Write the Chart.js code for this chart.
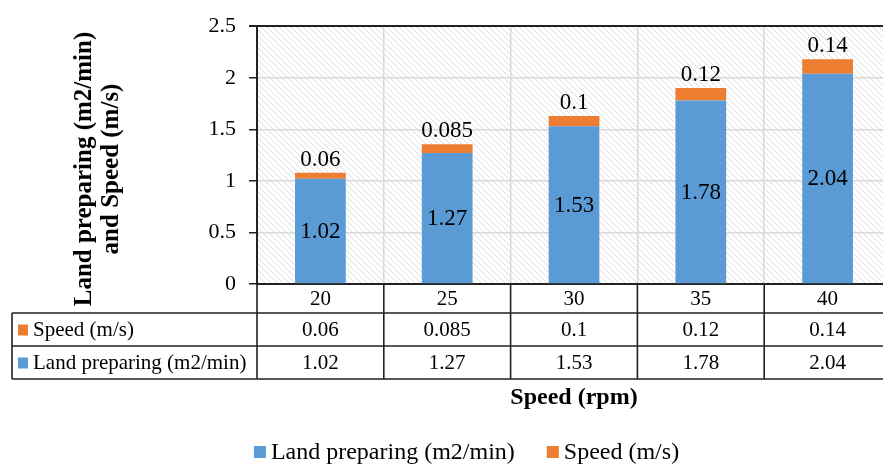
<!DOCTYPE html>
<html>
<head>
<meta charset="utf-8">
<script src="https://cdn.jsdelivr.net/npm/chart.js@4.4.0/dist/chart.umd.min.js"></script>
<style>
  html, body { margin: 0; padding: 0; overflow: hidden; background: #fff; }
  #wrap { position: relative; width: 933px; height: 466px; }
</style>
</head>
<body>
<div id="wrap"><canvas id="c"></canvas></div>
<script>
// Rotor speed categories and the two stacked series
const categories = ['20', '25', '30', '35', '40'];
const landPreparing = [1.02, 1.27, 1.53, 1.78, 2.04];
const speedMs = [0.06, 0.085, 0.1, 0.12, 0.14];
const yTicks = [0, 0.5, 1, 1.5, 2, 2.5];
const seriesNames = ['Land preparing (m2/min)', 'Speed (m/s)'];
const seriesColors = ['#5B9BD5', '#ED7D31'];
const xTitle = 'Speed (rpm)';
const yTitle = ['Land preparing (m2/min)', 'and Speed (m/s)'];

const SERIF = '"Liberation Serif", "Times New Roman", serif';
const LINE = '#222';
const GRID = '#d9d9d9';

// Diagonal hatch used as the plot area fill
function makeHatch(ctx) {
  const s = 6;
  const p = document.createElement('canvas');
  p.width = s; p.height = s;
  const g = p.getContext('2d');
  g.fillStyle = '#fff';
  g.fillRect(0, 0, s, s);
  g.strokeStyle = '#dcdcdc';
  g.lineWidth = 1;
  g.beginPath();
  for (const k of [-s, 0, s]) {
    g.moveTo(k, 0);
    g.lineTo(k + s, s);
  }
  g.stroke();
  return ctx.createPattern(p, 'repeat');
}

const hatchBackground = {
  id: 'hatchBackground',
  beforeDraw(chart) {
    const { ctx, chartArea: a } = chart;
    ctx.save();
    ctx.fillStyle = makeHatch(ctx);
    ctx.fillRect(a.left, a.top, a.right - a.left, a.bottom - a.top);
    ctx.restore();
  }
};

// Value labels: bottom series centred in its segment, top series above the stack
const valueLabels = {
  id: 'valueLabels',
  afterDatasetsDraw(chart) {
    const { ctx } = chart;
    ctx.save();
    ctx.font = '23px ' + SERIF;
    ctx.fillStyle = '#000';
    ctx.textAlign = 'center';
    const m0 = chart.getDatasetMeta(0);
    const m1 = chart.getDatasetMeta(1);
    m0.data.forEach((el, i) => {
      ctx.textBaseline = 'middle';
      ctx.fillText(String(chart.data.datasets[0].data[i]), el.x, (el.y + el.base) / 2 + 1);
    });
    m1.data.forEach((el, i) => {
      ctx.textBaseline = 'alphabetic';
      ctx.fillText(String(chart.data.datasets[1].data[i]), el.x, el.y - 7);
    });
    ctx.restore();
  }
};

// Data table under the x axis, axis titles and legend
const tableAndTitles = {
  id: 'tableAndTitles',
  afterDraw(chart) {
    const { ctx, chartArea: a } = chart;
    const xs = chart.scales.x;
    const n = categories.length;
    const colW = (xs.right - xs.left) / n;
    const tableLeft = 12;
    const r0 = a.bottom, r1 = r0 + 29, r2 = r1 + 33, r3 = r2 + 33;
    const right = xs.right;

    ctx.save();
    ctx.strokeStyle = LINE;
    ctx.lineWidth = 1.6;
    ctx.beginPath();
    [r1, r2, r3].forEach(y => { ctx.moveTo(tableLeft, y); ctx.lineTo(right, y); });
    ctx.moveTo(tableLeft, r1); ctx.lineTo(tableLeft, r3);
    for (let k = 0; k <= n; k++) {
      const x = xs.left + k * colW;
      ctx.moveTo(x, r0); ctx.lineTo(x, r3);
    }
    ctx.stroke();

    ctx.fillStyle = '#000';
    ctx.font = '21px ' + SERIF;
    ctx.textAlign = 'center';
    ctx.textBaseline = 'middle';
    const rowsData = [speedMs, landPreparing];
    categories.forEach((c, i) => {
      const cx = xs.getPixelForValue(i);
      ctx.fillText(c, cx, (r0 + r1) / 2 + 1);
      ctx.fillText(String(rowsData[0][i]), cx, (r1 + r2) / 2 + 1);
      ctx.fillText(String(rowsData[1][i]), cx, (r2 + r3) / 2 + 1);
    });

    // Row headers with series keys (top series first)
    const rowHeads = [[seriesNames[1], seriesColors[1], (r1 + r2) / 2], [seriesNames[0], seriesColors[0], (r2 + r3) / 2]];
    ctx.textAlign = 'left';
    rowHeads.forEach(([name, col, cy]) => {
      ctx.fillStyle = col;
      ctx.fillRect(18, cy - 5, 10, 11);
      ctx.fillStyle = '#000';
      ctx.fillText(name, 33, cy + 1);
    });

    // X axis title
    ctx.font = 'bold 24px ' + SERIF;
    ctx.textAlign = 'center';
    ctx.fillText(xTitle, (a.left + a.right) / 2, 398);

    // Y axis title, two rotated lines
    ctx.font = 'bold 25px ' + SERIF;
    ctx.save();
    ctx.translate(85, 169);
    ctx.rotate(-Math.PI / 2);
    ctx.fillText(yTitle[0], 0, 0);
    ctx.fillText(yTitle[1], 0, 27);
    ctx.restore();

    // Legend centred on the full chart width
    ctx.font = '24px ' + SERIF;
    ctx.textAlign = 'left';
    const box = 12, gapBox = 5, gapItem = 32;
    const items = chart.data.datasets.map(d => ({ label: d.label, color: d.backgroundColor }));
    const widths = items.map(it => box + gapBox + ctx.measureText(it.label).width);
    const total = widths.reduce((s, w) => s + w, 0) + gapItem * (items.length - 1);
    let x = chart.width / 2 - total / 2;
    const ly = 452;
    items.forEach((it, i) => {
      ctx.fillStyle = it.color;
      ctx.fillRect(x, ly - 6, box, box);
      ctx.fillStyle = '#000';
      ctx.fillText(it.label, x + box + gapBox, ly + 1);
      x += widths[i] + gapItem;
    });
    ctx.restore();
  }
};

new Chart(document.getElementById('c'), {
  type: 'bar',
  data: {
    labels: categories,
    datasets: [
      { label: seriesNames[0], data: landPreparing, backgroundColor: seriesColors[0] },
      { label: seriesNames[1], data: speedMs, backgroundColor: seriesColors[1] }
    ]
  },
  options: {
    responsive: true,
    maintainAspectRatio: false,
    animation: false,
    layout: { padding: { top: 19, right: 42, left: 0, bottom: 0 } },
    datasets: { bar: { categoryPercentage: 1, barPercentage: 0.4 } },
    plugins: { legend: { display: false }, tooltip: { enabled: false } },
    scales: {
      x: {
        stacked: true,
        ticks: { display: false },
        grid: { color: GRID, lineWidth: 1.5, drawTicks: false, offset: true },
        border: { color: LINE, width: 2 },
        afterFit: s => { s.height = 182; }
      },
      y: {
        stacked: true,
        min: 0,
        max: 2.5,
        afterBuildTicks: s => { s.ticks = yTicks.map(v => ({ value: v })); },
        ticks: {
          padding: 13,
          color: '#000',
          font: { family: SERIF, size: 22 },
          callback: v => String(v)
        },
        grid: {
          tickLength: 8,
          lineWidth: c => (c.tick && c.tick.value === 2.5 ? 2 : 1.5),
          color: c => (c.tick && c.tick.value === 2.5 ? LINE : GRID),
          tickColor: LINE
        },
        border: { color: LINE, width: 2 },
        afterFit: s => { s.width = 257; }
      }
    }
  },
  plugins: [hatchBackground, valueLabels, tableAndTitles]
});
</script>
</body>
</html>
